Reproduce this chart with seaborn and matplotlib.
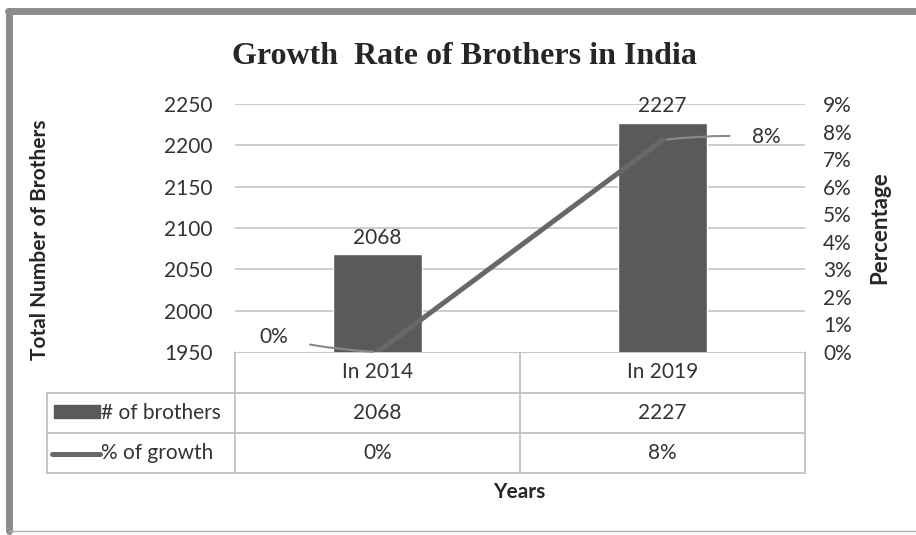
import matplotlib
matplotlib.use("Agg")
import matplotlib.pyplot as plt
import seaborn as sns
import pandas as pd

# dados do gráfico
years = ["In 2014", "In 2019"]
brothers = [2068, 2227]
growth = [0.0, 7.69]
growth_labels = ["0%", "8%"]
count_ticks = [1950, 2000, 2050, 2100, 2150, 2200, 2250]
pct_ticks = list(range(0, 10))

sns.set_style("white")
plt.rcParams['font.family'] = ['Lato', 'DejaVu Sans']

df = pd.DataFrame({"year": years, "brothers": brothers, "growth": growth})

W, H = 916, 535
fig = plt.figure(figsize=(W / 100, H / 100), dpi=100)

# camada em pixels para moldura e tabela
ov = fig.add_axes([0, 0, 1, 1])
ov.set_xlim(0, W)
ov.set_ylim(H, 0)
ov.axis("off")

x0, x1 = 235, 805
y_top, y_bot = 104, 352
ax = fig.add_axes([x0 / W, 1 - y_bot / H, (x1 - x0) / W, (y_bot - y_top) / H])

bar_c = "#5a5a5a"
line_c = "#686868"
grid_c = "#c4c4c4"
txt_c = "#333333"
fs = 15

sns.barplot(data=df, x="year", y="brothers", color=bar_c, width=0.31,
            saturation=1, ax=ax, zorder=3)
ax.set_ylim(count_ticks[0], count_ticks[-1])
ax.set_xlim(-0.5, 1.5)
ax.set_yticks(count_ticks)
ax.set_yticklabels([str(t) for t in count_ticks], fontsize=fs, color=txt_c)
ax.tick_params(axis="y", length=0, pad=16)
ax.set_xticks([])
ax.set_xlabel("")
ax.set_ylabel("")
for y in count_ticks[1:]:
    ax.axhline(y, color=grid_c, lw=1.2, zorder=0)
for s in ax.spines.values():
    s.set_visible(False)
for i, v in enumerate(brothers):
    ax.annotate(str(v), (i, v), xytext=(0, 5), textcoords="offset points",
                ha="center", va="bottom", fontsize=fs, color=txt_c)

ax2 = ax.twinx()
sns.lineplot(data=df, x="year", y="growth", color=line_c, lw=3.6, ax=ax2,
             zorder=4, sort=False)
ax2.set_ylim(0, 9)
ax2.set_xlim(-0.5, 1.5)
ax2.set_yticks(pct_ticks)
ax2.set_yticklabels([f"{t}%" for t in pct_ticks], fontsize=fs, color=txt_c)
ax2.tick_params(axis="y", length=0, pad=13)
ax2.set_xlabel("")
ax2.set_ylabel("")
for s in ax2.spines.values():
    s.set_visible(False)

# etiquetas de percentagem com linha de chamada
offsets = [(-75, 11), (75, 2)]
for i, (v, lab) in enumerate(zip(growth, growth_labels)):
    ax2.annotate(lab, (i, v), xytext=offsets[i], textcoords="offset points",
                 ha="center", va="center", fontsize=fs, color=txt_c,
                 arrowprops=dict(arrowstyle="-", color="#8a8a8a", lw=1.5,
                                 shrinkA=14, shrinkB=3,
                                 connectionstyle="arc3,rad=0.05"))

# título e rótulos dos eixos
ov.text(464, 56, "Growth  Rate of Brothers in India", ha="center", va="center",
        fontsize=23, fontweight="bold", family="Liberation Serif", color="#262626")
ov.text(40, 240, "Total Number of Brothers", rotation=90, ha="center", va="center",
        fontsize=15, fontweight="bold", color="#262626")
ov.text(880, 228, "Percentage", rotation=90, ha="center", va="center",
        fontsize=16, fontweight="bold", color="#262626")
ov.text(519, 492, "Years", ha="center", va="center",
        fontsize=15, fontweight="bold", color="#262626")

# tabela de dados
tab_c = "#c0c0c0"
rows = [352, 393, 433, 473]
cols = [47, 235, 520, 805]
ov.plot([cols[1], cols[3]], [rows[0], rows[0]], color=tab_c, lw=1.3)
for r in rows[1:]:
    ov.plot([cols[0], cols[3]], [r, r], color=tab_c, lw=1.3)
ov.plot([cols[0], cols[0]], [rows[1], rows[3]], color=tab_c, lw=1.3)
for c in cols[1:]:
    ov.plot([c, c], [rows[0], rows[3]], color=tab_c, lw=1.3)

mid_x = [(cols[1] + cols[2]) / 2, (cols[2] + cols[3]) / 2]
mid_y = [(rows[k] + rows[k + 1]) / 2 for k in range(3)]
for j in range(2):
    ov.text(mid_x[j], mid_y[0], years[j], ha="center", va="center", fontsize=fs, color=txt_c)
    ov.text(mid_x[j], mid_y[1], str(brothers[j]), ha="center", va="center", fontsize=fs, color=txt_c)
    ov.text(mid_x[j], mid_y[2], growth_labels[j], ha="center", va="center", fontsize=fs, color=txt_c)

ov.add_patch(plt.Rectangle((54, 405), 46, 13, color=bar_c))
ov.text(101, mid_y[1], "# of brothers", ha="left", va="center", fontsize=fs, color=txt_c)
ov.plot([52, 100], [mid_y[2] + 1, mid_y[2] + 1], color=line_c, lw=3.6, solid_capstyle="round")
ov.text(101, mid_y[2], "% of growth", ha="left", va="center", fontsize=fs, color=txt_c)

# moldura externa
ov.plot([8, 916], [11, 11], color="#8c8c8c", lw=5)
ov.plot([9, 9], [11, 531], color="#8c8c8c", lw=5)
ov.plot([9, 916], [531, 531], color="#b0b0b0", lw=1)

fig.savefig("out.png", dpi=100)
